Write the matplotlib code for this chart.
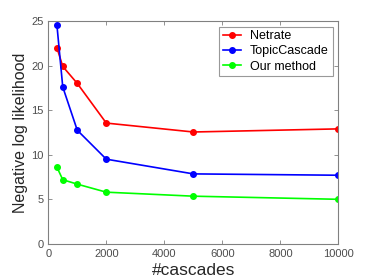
import matplotlib
matplotlib.use('Agg')
import matplotlib.pyplot as plt

plt.rcParams['font.family'] = ['Liberation Sans', 'DejaVu Sans']

cascades = [300, 500, 1000, 2000, 5000, 10000]
netrate = [22.0, 19.9, 18.0, 13.55, 12.55, 12.9]
topic_cascade = [24.5, 17.6, 12.75, 9.5, 7.85, 7.7]
our_method = [8.6, 7.2, 6.7, 5.8, 5.35, 5.0]

fig = plt.figure(figsize=(3.74, 2.8), dpi=100)
ax = fig.add_axes([0.129, 0.129, 0.776, 0.796])

ax.plot(cascades, netrate, '-o', color='#ff0000', lw=1.2, ms=4, label='Netrate')
ax.plot(cascades, topic_cascade, '-o', color='#0000ff', lw=1.2, ms=4, label='TopicCascade')
ax.plot(cascades, our_method, '-o', color='#00ff00', lw=1.2, ms=4, label='Our method')

ax.set_xlim(0, 10000)
ax.set_ylim(0, 25)
ax.set_xticks([0, 2000, 4000, 6000, 8000, 10000])
ax.set_yticks([0, 5, 10, 15, 20, 25])

grey = '#808080'
for s in ax.spines.values():
    s.set_color(grey)
    s.set_linewidth(0.8)
ax.tick_params(direction='in', top=True, right=True, colors=grey, labelcolor='#4d4d4d',
               labelsize=8, length=3, width=0.6)

ax.set_xlabel('#cascades', fontsize=12.5, color='#262626', labelpad=3)
ax.set_ylabel('Negative log likelihood', fontsize=11.5, color='#262626', labelpad=2)

leg = ax.legend(loc='upper right', fontsize=9, frameon=True, fancybox=False,
                borderpad=0.3, labelspacing=0.25, handlelength=1.5, handletextpad=0.7,
                bbox_to_anchor=(0.98, 0.975), borderaxespad=0)
leg.get_frame().set_edgecolor(grey)
leg.get_frame().set_linewidth(0.8)

fig.savefig('out.png', dpi=100)
